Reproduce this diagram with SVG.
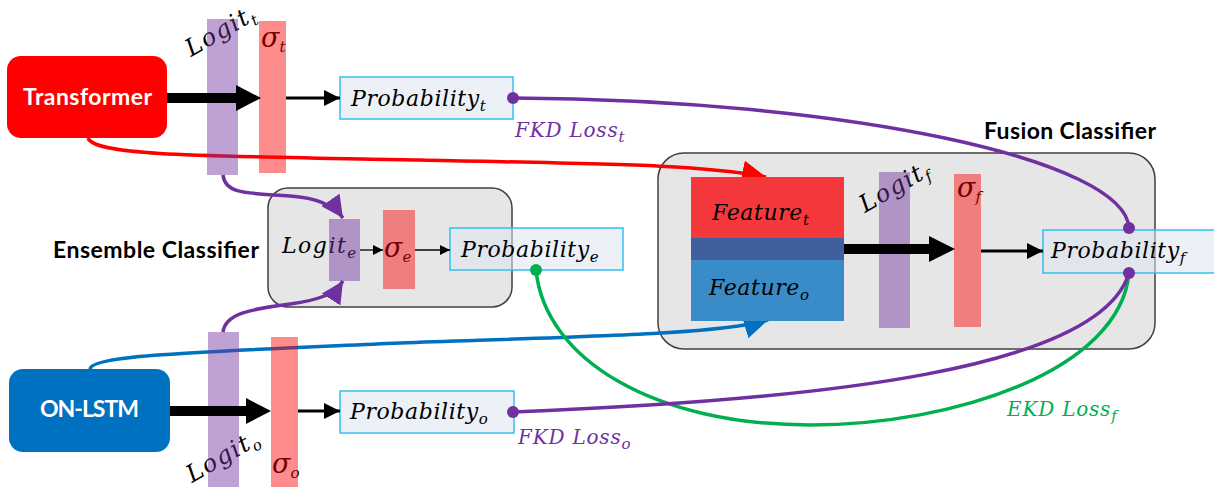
<svg xmlns="http://www.w3.org/2000/svg" width="1214" height="487" viewBox="0 0 1214 487">
<style>
.lbl{font-family:Lato,"Open Sans","Liberation Sans",sans-serif;font-weight:bold;font-size:23px}
.wh{fill:#fff}
.m{font-family:"DejaVu Serif","Liberation Serif",serif;font-style:italic;font-size:22px;fill:#000;letter-spacing:0.6px}
.lg{letter-spacing:1.5px}
.rot{font-size:24px}
.sg{font-size:27px;letter-spacing:0}
.sub{font-size:15px;letter-spacing:0}
.loss{font-family:"DejaVu Serif","Liberation Serif",serif;font-style:italic;font-size:20px;letter-spacing:0.8px}
.logit{fill:#7030A0;fill-opacity:0.45}
.sig{fill:#FF0000;fill-opacity:0.45}
.prob{fill:#DCE6F2;fill-opacity:0.55;stroke:#33C0F0;stroke-width:1.5}
.cls{fill:#E6E6E6;stroke:#404040;stroke-width:1.5}
.thin{stroke:#000;stroke-width:3;fill:none}
.tiny{stroke:#000;stroke-width:1.3;fill:none}
.pc{stroke:#7030A0;stroke-width:3.5;fill:none}
.gc{stroke:#00B050;stroke-width:3.5;fill:none}
</style>
<defs>
<marker id="ah" markerUnits="userSpaceOnUse" markerWidth="20" markerHeight="16" refX="16" refY="8" orient="auto"><path d="M0,0 L16,8 L0,16 Z" fill="#000"/></marker>
<marker id="ahs" markerUnits="userSpaceOnUse" markerWidth="12" markerHeight="10" refX="10" refY="5" orient="auto"><path d="M0,0 L10,5 L0,10 Z" fill="#000"/></marker>
<marker id="ahr" markerUnits="userSpaceOnUse" markerWidth="26" markerHeight="24" refX="24" refY="12" orient="auto"><path d="M0,0 L24,12 L0,24 Z" fill="#FF0000"/></marker>
<marker id="ahb" markerUnits="userSpaceOnUse" markerWidth="26" markerHeight="24" refX="24" refY="12" orient="auto"><path d="M0,0 L24,12 L0,24 Z" fill="#0070C0"/></marker>
<marker id="ahp" markerUnits="userSpaceOnUse" markerWidth="24" markerHeight="22" refX="22" refY="11" orient="auto"><path d="M0,0 L22,11 L0,22 Z" fill="#7030A0"/></marker>
<marker id="dp" markerUnits="userSpaceOnUse" markerWidth="14" markerHeight="14" refX="7" refY="7"><circle cx="7" cy="7" r="6" fill="#7030A0"/></marker>
<marker id="dg" markerUnits="userSpaceOnUse" markerWidth="14" markerHeight="14" refX="7" refY="7"><circle cx="7" cy="7" r="6" fill="#00B050"/></marker>
</defs>

<g id="fusion-classifier">
<text class="lbl" x="984" y="139" textLength="172">Fusion Classifier</text>
<rect class="cls" x="658" y="153" width="497" height="196" rx="26"/>
</g>
<g id="ensemble-classifier">
<text class="lbl" x="53" y="258" textLength="206">Ensemble Classifier</text>
<rect class="cls" x="268" y="188" width="244" height="119" rx="20"/>
</g>

<g id="connectors-under">
<path d="M88,138 C95,156 200,156 420,160 C600,164 700,164 766,177" stroke="#FF0000" stroke-width="3.5" fill="none" marker-end="url(#ahr)"/>
<path d="M90,369 C92,355 200,352 400,343 C600,336 720,334 768,320" stroke="#0070C0" stroke-width="3.5" fill="none" marker-end="url(#ahb)"/>
</g>

<g id="transformer">
<rect x="7" y="56" width="160" height="82" rx="14" fill="#FF0000"/>
<text class="lbl wh" x="87.5" y="105" text-anchor="middle" textLength="129">Transformer</text>
</g>
<g id="on-lstm">
<rect x="9" y="369" width="161" height="83" rx="14" fill="#0070C0"/>
<text class="lbl wh" x="89.5" y="417" text-anchor="middle" textLength="99">ON-LSTM</text>
</g>

<g id="feature-t">
<rect x="691" y="177" width="153" height="61" fill="#F4383B"/>
<text class="m" x="712" y="220">Feature<tspan class="sub" dy="5">t</tspan></text>
</g>
<g id="feature-band"><rect x="691" y="238" width="153" height="22" fill="#405F9D"/></g>
<g id="feature-o">
<rect x="691" y="260" width="153" height="61" fill="#3A8CC8"/>
<text class="m" x="709" y="295">Feature<tspan class="sub" dy="5">o</tspan></text>
</g>

<g id="logit-t">
<text class="m lg rot" transform="translate(191,57) rotate(-30)">Logit<tspan class="sub" dy="5">t</tspan></text>
<rect class="logit" x="207" y="19" width="31" height="156"/>
</g>
<g id="sigma-t">
<text class="m sg" x="261" y="47">σ<tspan class="sub" dy="5">t</tspan></text>
<rect class="sig" x="259" y="21" width="27" height="152"/>
</g>
<g id="logit-o">
<text class="m lg rot" transform="translate(192,483) rotate(-30)">Logit<tspan class="sub" dy="5">o</tspan></text>
<rect class="logit" x="208" y="332" width="31" height="155"/>
</g>
<g id="sigma-o">
<text class="m sg" x="272" y="473">σ<tspan class="sub" dy="5">o</tspan></text>
<rect class="sig" x="271" y="337" width="27" height="150"/>
</g>
<g id="logit-e">
<text class="m lg" x="282" y="253">Logit<tspan class="sub" dy="5">e</tspan></text>
<rect class="logit" x="329" y="219" width="31" height="62"/>
</g>
<g id="sigma-e">
<text class="m sg" x="384" y="257">σ<tspan class="sub" dy="5">e</tspan></text>
<rect class="sig" x="383" y="210" width="32" height="79"/>
</g>
<g id="logit-f">
<text class="m lg rot" transform="translate(865,213) rotate(-30)">Logit<tspan class="sub" dy="5">f</tspan></text>
<rect class="logit" x="879" y="172" width="31" height="156"/>
</g>
<g id="sigma-f">
<text class="m sg" x="957" y="197">σ<tspan class="sub" dy="5">f</tspan></text>
<rect class="sig" x="954" y="174" width="27" height="153"/>
</g>

<g id="probability-t">
<rect class="prob" x="340" y="77" width="173" height="42"/>
<text class="m" x="351" y="106">Probability<tspan class="sub" dy="5">t</tspan></text>
</g>
<g id="probability-o">
<rect class="prob" x="340" y="391" width="174" height="42"/>
<text class="m" x="350" y="419">Probability<tspan class="sub" dy="5">o</tspan></text>
</g>
<g id="probability-e">
<rect class="prob" x="450" y="228" width="173" height="42"/>
<text class="m" x="461" y="257">Probability<tspan class="sub" dy="5">e</tspan></text>
</g>
<g id="probability-f">
<rect class="prob" x="1043" y="230" width="175" height="43"/>
<text class="m" x="1051" y="258">Probability<tspan class="sub" dy="5">f</tspan></text>
</g>

<g id="connectors">
<path d="M167,98 H238" stroke="#000" stroke-width="10"/>
<path d="M170,411 H248" stroke="#000" stroke-width="10"/>
<path d="M844,249 H931" stroke="#000" stroke-width="10"/>
<path d="M236,85 L261,98 L236,111 Z" fill="#000"/>
<path d="M246,398 L271,411 L246,424 Z" fill="#000"/>
<path d="M929,236 L955,249 L929,262 Z" fill="#000"/>
<path class="thin" d="M286,98 H340" marker-end="url(#ah)"/>
<path class="thin" d="M298,411 H340" marker-end="url(#ah)"/>
<path class="thin" d="M981,251 H1043" marker-end="url(#ah)"/>
<path class="tiny" d="M360,250 H383" marker-end="url(#ahs)"/>
<path class="tiny" d="M415,250 H450" marker-end="url(#ahs)"/>
<path class="pc" d="M223,175 C225,195 250,193 290,196 C318,198 334,205 343,218" marker-end="url(#ahp)"/>
<path class="pc" d="M223,332 C225,314 250,309 290,304 C318,300 334,295 343,281" marker-end="url(#ahp)"/>
<path class="pc" d="M513,98 C850,100 1125,160 1129,228" marker-start="url(#dp)" marker-end="url(#dp)"/>
<path class="gc" d="M536,270 C545,360 655,425 810,425 C955,425 1120,370 1129,273" marker-start="url(#dg)"/>
<path class="pc" d="M513,412 C820,400 1100,370 1129,273" marker-start="url(#dp)" marker-end="url(#dp)"/>
</g>

<g id="loss-labels">
<text class="loss" x="515" y="137" fill="#7030A0">FKD Loss<tspan class="sub" dy="5">t</tspan></text>
<text class="loss" x="518" y="444" fill="#7030A0">FKD Loss<tspan class="sub" dy="5">o</tspan></text>
<text class="loss" x="1007" y="416" fill="#00B050">EKD Loss<tspan class="sub" dy="5">f</tspan></text>
</g>
</svg>
